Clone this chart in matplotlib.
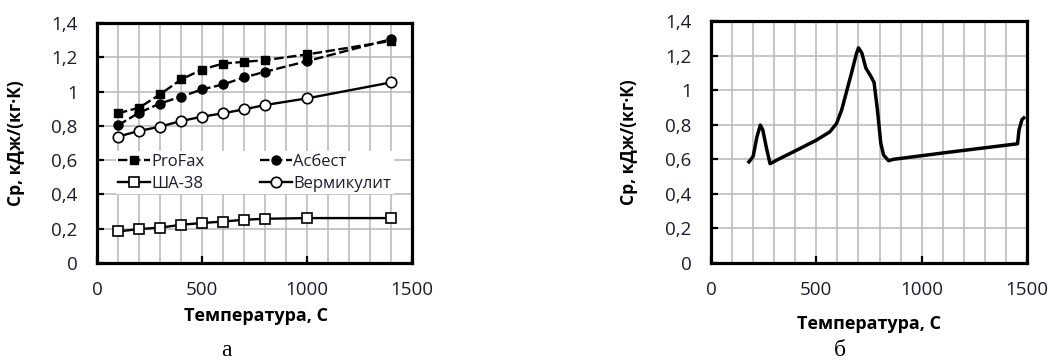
import matplotlib
matplotlib.use("Agg")
import matplotlib.pyplot as plt
from matplotlib.ticker import MultipleLocator, FuncFormatter

plt.rcParams['font.family'] = ['Open Sans', 'DejaVu Sans']

# data (a): heat capacity of materials
temp_a = [100, 200, 300, 400, 500, 600, 700, 800, 1000, 1400]
cp_profax = [0.873, 0.905, 0.983, 1.07, 1.128, 1.163, 1.173, 1.183, 1.216, 1.295]
cp_sha38 = [0.184, 0.198, 0.206, 0.223, 0.233, 0.242, 0.252, 0.258, 0.262, 0.262]
cp_asbest = [0.803, 0.876, 0.93, 0.97, 1.012, 1.041, 1.082, 1.115, 1.177, 1.305]
cp_verm = [0.737, 0.77, 0.795, 0.828, 0.853, 0.873, 0.896, 0.921, 0.96, 1.053]

# data (b): single curve
temp_b = [180, 200, 218, 234, 246, 262, 280, 326, 400, 500, 564, 596, 620, 643,
          667, 691, 700, 716, 735, 759, 774, 790, 806, 819, 843, 866, 1121, 1455,
          1462, 1476, 1485]
cp_b = [0.585, 0.617, 0.73, 0.798, 0.769, 0.672, 0.575, 0.604, 0.649, 0.711, 0.759,
        0.808, 0.885, 0.99, 1.1, 1.215, 1.245, 1.215, 1.128, 1.08, 1.045, 0.885,
        0.692, 0.625, 0.592, 0.6, 0.64, 0.69, 0.77, 0.83, 0.84]

tick_color = '#1c1c2c'
grid_color = '#bcbcbc'
comma = FuncFormatter(lambda v, p: f'{v:g}'.replace('.', ','))


def style_axes(ax):
    ax.set_xlim(0, 1500)
    ax.set_ylim(0, 1.4)
    ax.xaxis.set_major_locator(MultipleLocator(500))
    ax.xaxis.set_minor_locator(MultipleLocator(100))
    ax.yaxis.set_major_locator(MultipleLocator(0.2))
    ax.yaxis.set_major_formatter(comma)
    for s in ax.spines.values():
        s.set_linewidth(2.3)
    ax.tick_params(which='major', direction='in', length=5, width=1.6,
                   labelsize=13.5, labelcolor=tick_color)
    ax.tick_params(axis='x', which='major', pad=13)
    ax.tick_params(axis='y', which='major', pad=14)
    ax.tick_params(which='minor', length=0)
    # vertical lines every 100, horizontal every 0.2
    ax.grid(True, axis='x', which='both', color=grid_color, linewidth=1.2, zorder=0.5)
    ax.grid(True, axis='y', which='major', color=grid_color, linewidth=1.2, zorder=0.5)
    ax.set_ylabel('Ср, кДж/(кг·К)', fontsize=12.5, fontweight='bold')
    ax.set_xlabel('Температура, С', fontsize=13, fontweight='bold')


fig = plt.figure(figsize=(10.59, 3.6), dpi=100)
ax1 = fig.add_axes([0.0916, 0.2694, 0.2975, 0.667])
ax2 = fig.add_axes([0.6714, 0.2694, 0.2984, 0.672])

style_axes(ax1)
style_axes(ax2)

ax1.plot(temp_a, cp_profax, color='black', lw=1.7, dashes=(4, 1.5), marker='s',
         ms=6, mfc='black', mec='black', label='ProFax')
ax1.plot(temp_a, cp_sha38, color='black', lw=1.7, marker='s', ms=7.5,
         mfc='white', mec='black', mew=1.2, label='ША-38')
ax1.plot(temp_a, cp_asbest, color='black', lw=1.7, dashes=(4, 1.5), marker='o',
         ms=6.5, mfc='black', mec='black', label='Асбест')
ax1.plot(temp_a, cp_verm, color='black', lw=1.7, marker='o', ms=7.5,
         mfc='white', mec='black', mew=1.2, label='Вермикулит')

leg = ax1.legend(ncol=2, loc='upper left', bbox_to_anchor=(0.06, 0.465),
                 fontsize=12, frameon=True, facecolor='white', edgecolor='none',
                 framealpha=1, fancybox=False, borderpad=0.15, handlelength=1.9,
                 handletextpad=0.1, columnspacing=3.3, labelspacing=0.35,
                 borderaxespad=0)
for t in leg.get_texts():
    t.set_color(tick_color)

ax2.plot(temp_b, cp_b, color='black', lw=2.5, solid_joinstyle='round')

for ax in (ax1, ax2):
    ax.yaxis.set_label_coords(-0.23, 0.5)
ax1.xaxis.set_label_coords(0.505, -0.185)
ax2.xaxis.set_label_coords(0.5, -0.215)

fig.text(226 / 1059, 4 / 360, 'а', family='Liberation Serif', fontsize=17,
         ha='center', va='baseline')
fig.text(840 / 1059, 4 / 360, 'б', family='Liberation Serif', fontsize=17,
         ha='center', va='baseline')

fig.savefig('out.png', dpi=100)
